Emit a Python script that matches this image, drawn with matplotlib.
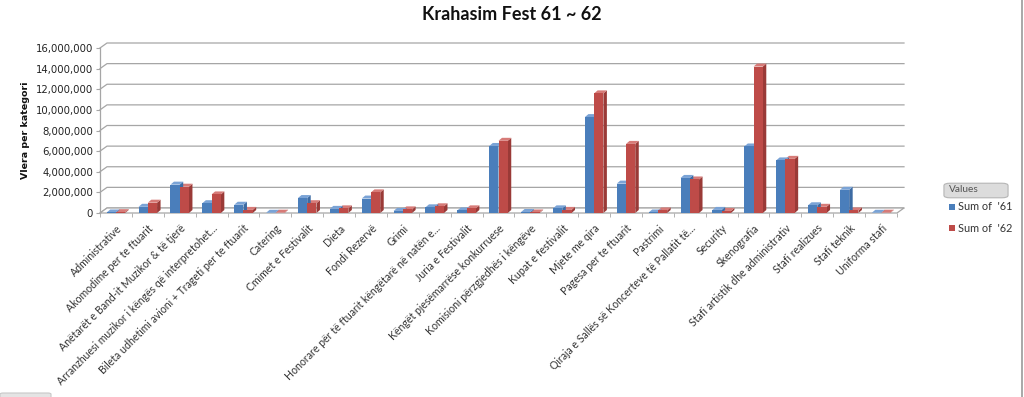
import matplotlib
matplotlib.use("Agg")
import matplotlib.pyplot as plt
from matplotlib.patches import Polygon, FancyBboxPatch, Rectangle
from matplotlib.lines import Line2D
from matplotlib.ticker import FuncFormatter, FixedLocator
import numpy as np

categories = [
    "Administrative",
    "Akomodime per te ftuarit",
    "Anëtarët e Band-it Muzikor & të tjerë",
    "Arranzhuesi muzikor i këngës që interpretohet...",
    "Bileta udhetimi avioni + Trageti per te ftuarit",
    "Catering",
    "Cmimet e Festivalit",
    "Dieta",
    "Fondi Rezervë",
    "Grimi",
    "Honorare për të ftuarit këngëtarë në natën e...",
    "Juria e Festivalit",
    "Këngët pjesëmarrëse konkurruese",
    "Komisioni përzgjedhës i këngëve",
    "Kupat e festivalit",
    "Mjete me qira",
    "Pagesa per te ftuarit",
    "Pastrimi",
    "Qiraja e Sallës së Koncerteve të Pallatit të...",
    "Security",
    "Skenografia",
    "Stafi artistik dhe administrativ",
    "Stafi realizues",
    "Stafi teknik",
    "Uniforma stafi",
]

sum_61 = [50000, 600000, 2750000, 950000, 800000, 20000, 1450000, 400000,
          1400000, 200000, 550000, 250000, 6500000, 100000, 450000, 9300000,
          2850000, 50000, 3400000, 300000, 6450000, 5100000, 750000, 2250000,
          20000]
sum_62 = [80000, 1000000, 2550000, 1800000, 300000, 30000, 950000, 450000,
          2000000, 350000, 650000, 450000, 7000000, 50000, 300000, 11600000,
          6700000, 250000, 3250000, 200000, 14200000, 5250000, 600000, 250000,
          30000]

series_names = ["Sum of  '61", "Sum of  '62"]
y_ticks = list(range(0, 16000001, 2000000))

# colours: front, side, top
blue = ("#4A7EBB", "#3D6BA3", "#7AA3D6")
red = ("#BE4B48", "#9A3A37", "#D77B78")

W, H = 1024, 397
fig = plt.figure(figsize=(W / 100, H / 100), dpi=100)
ax_left, ax_right, ax_bottom, ax_top = 100, 897, 213, 48
ax = fig.add_axes([ax_left / W, 1 - ax_bottom / H,
                   (ax_right - ax_left) / W, (ax_bottom - ax_top) / H])

n = len(categories)
x = np.arange(n)
xmin, xmax = -0.5, n - 0.5
ymin, ymax = 0, 16000000
ax.set_xlim(xmin, xmax)
ax.set_ylim(ymin, ymax)

# pixel -> data helpers (fixed figure size)
px_x = (xmax - xmin) / (ax_right - ax_left)
px_y = (ymax - ymin) / (ax_bottom - ax_top)

wall_dx, wall_dy = 7 * px_x, 5 * px_y
bar_dx, bar_dy = 3.5 * px_x, 3 * px_y
grid_c = "#A6A6A6"

# floor
ax.add_patch(Polygon([(xmin, 0), (xmax, 0), (xmax + wall_dx, wall_dy),
                      (xmin + wall_dx, wall_dy)], closed=True,
                     facecolor="white", edgecolor=grid_c, lw=0.9,
                     clip_on=False, zorder=1))

# back-wall gridlines with slanted connectors on left wall
for v in y_ticks:
    ax.add_line(Line2D([xmin, xmin + wall_dx, xmax + wall_dx],
                       [v, v + wall_dy, v + wall_dy], color=grid_c, lw=0.9,
                       clip_on=False, zorder=0.5))

bw = 0.29
bars61 = ax.bar(x - bw, sum_61, width=bw, align="edge", color=blue[0],
                zorder=3, label=series_names[0])
bars62 = ax.bar(x, sum_62, width=bw, align="edge", color=red[0],
                zorder=3, label=series_names[1])


def add_depth(bars, cols):
    for r in bars:
        x0, y0 = r.get_x(), r.get_y()
        w, h = r.get_width(), r.get_height()
        side = Polygon([(x0 + w, y0), (x0 + w + bar_dx, y0 + bar_dy),
                        (x0 + w + bar_dx, y0 + h + bar_dy), (x0 + w, y0 + h)],
                       closed=True, facecolor=cols[1], edgecolor="none",
                       zorder=2.9, clip_on=False)
        top = Polygon([(x0, y0 + h), (x0 + w, y0 + h),
                       (x0 + w + bar_dx, y0 + h + bar_dy),
                       (x0 + bar_dx, y0 + h + bar_dy)],
                      closed=True, facecolor=cols[2], edgecolor="none",
                      zorder=2.9, clip_on=False)
        ax.add_patch(side)
        ax.add_patch(top)


add_depth(bars62, red)
add_depth(bars61, blue)

# axes styling
for s in ["top", "right", "bottom"]:
    ax.spines[s].set_visible(False)
ax.spines["left"].set_color(grid_c)
ax.spines["left"].set_linewidth(0.9)

ax.yaxis.set_major_locator(FixedLocator(y_ticks))
ax.yaxis.set_major_formatter(FuncFormatter(lambda v, p: f"{int(v):,}"))
ax.tick_params(axis="y", length=3, color=grid_c, labelsize=7.3,
               labelcolor="#222222", pad=2)
for t in ax.get_yticklabels():
    t.set_family("DejaVu Sans")

ax.set_xticks(x)
ax.set_xticklabels(categories, rotation=45, ha="right",
                   rotation_mode="anchor", fontsize=7.6, family="Lato",
                   color="#333333")
ax.tick_params(axis="x", length=0, pad=7)
ax.set_xticks(np.arange(n + 1) - 0.5, minor=True)
ax.tick_params(axis="x", which="minor", length=3, color=grid_c)

ax.set_ylabel("Vlera per kategori", fontsize=6.8, fontweight="bold",
              family="DejaVu Sans", color="#111111")
ax.yaxis.set_label_coords(-70 / (ax_right - ax_left), 0.5)

fig.text(0.5, 1 - 14 / H, "Krahasim Fest 61 ~ 62", ha="center", va="center",
         fontsize=13, fontweight="bold", family="Lato", color="#111111")

# legend drawn by hand to mimic the pivot chart field list
fig.patches.append(FancyBboxPatch((946 / W, 1 - 197 / H), 60 / W, 13 / H,
                                  boxstyle="round,pad=0.002,rounding_size=0.006",
                                  transform=fig.transFigure,
                                  facecolor="#DCDCDC", edgecolor="#B5B5B5",
                                  lw=0.8))
fig.text(949 / W, 1 - 190 / H, "Values", ha="left", va="center",
         fontsize=7.3, family="Lato", color="#555555")
for i, (name, col) in enumerate(zip(series_names, [blue[0], red[0]])):
    yy = 207 + i * 21
    fig.patches.append(Rectangle((949 / W, 1 - (yy + 3) / H), 6 / W, 6 / H,
                                 transform=fig.transFigure, facecolor=col,
                                 edgecolor="none"))
    fig.text(958 / W, 1 - yy / H, name, ha="left", va="center",
             fontsize=7.8, family="Lato", color="#333333")

# frame line on the right and tab at bottom-left
fig.add_artist(Line2D([1022 / W, 1022 / W], [0, 1], color="#9A9A9A", lw=1.2,
                      transform=fig.transFigure))
fig.patches.append(FancyBboxPatch((0, -2 / H), 51 / W, 6 / H,
                                  boxstyle="round,pad=0,rounding_size=0.003",
                                  transform=fig.transFigure,
                                  facecolor="#E4E4E4", edgecolor="#C8C8C8",
                                  lw=0.8))

fig.savefig("out.png", dpi=100)
